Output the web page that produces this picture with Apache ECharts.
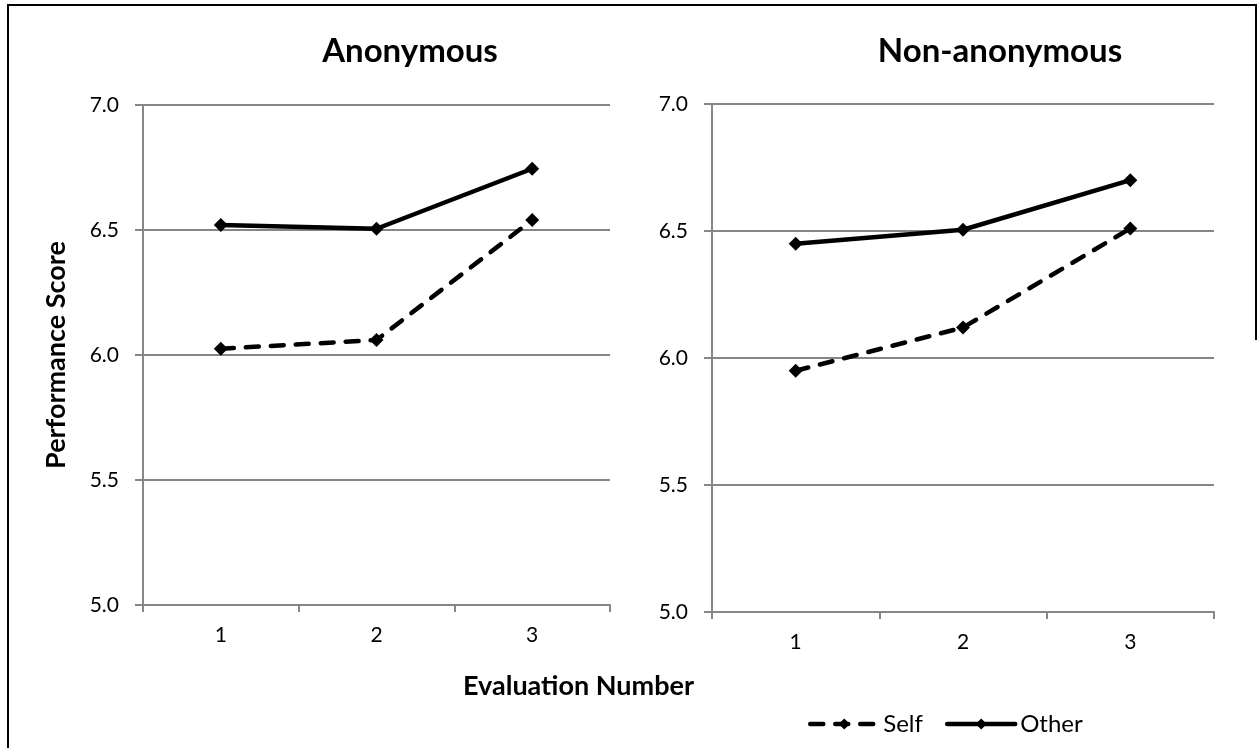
<!DOCTYPE html>
<html><head><meta charset="utf-8">
<script src="https://cdn.jsdelivr.net/npm/echarts@6/dist/echarts.min.js"></script>
<style>html,body{margin:0;padding:0;background:#fff}#c{width:1258px;height:748px}</style>
</head><body><div id="c"></div>
<script>
const categories = ['1', '2', '3'];
const anonSelf = [6.025, 6.06, 6.54];
const anonOther = [6.52, 6.505, 6.745];
const nonAnonSelf = [5.95, 6.12, 6.51];
const nonAnonOther = [6.45, 6.505, 6.70];
const panelTitles = ['Anonymous', 'Non-anonymous'];
const yTicks = { min: 5.0, max: 7.0, interval: 0.5 };

const FONT = 'Lato, "Liberation Sans", sans-serif';
const chart = echarts.init(document.getElementById('c'));

function xAxisCfg(idx) {
  return {
    type: 'category', gridIndex: idx, data: categories, boundaryGap: true,
    axisLine: { lineStyle: { color: '#868686', width: 2 } },
    axisTick: { show: true, length: 7, inside: false, alignWithLabel: false, lineStyle: { color: '#868686', width: 2 } },
    axisLabel: { color: '#000', fontFamily: FONT, fontSize: 21, margin: 20 },
    splitLine: { show: false }
  };
}
function yAxisCfg(idx, name) {
  return {
    type: 'value', gridIndex: idx, min: yTicks.min, max: yTicks.max, interval: yTicks.interval,
    name: name, nameLocation: 'middle', nameGap: 73,
    nameTextStyle: { fontFamily: FONT, fontWeight: 'bold', fontSize: 27, color: '#000' },
    axisLine: { show: true, lineStyle: { color: '#868686', width: 2 } },
    axisTick: { show: true, length: 8, lineStyle: { color: '#868686', width: 2 } },
    axisLabel: { color: '#000', fontFamily: FONT, fontSize: 21, margin: 24, formatter: v => v.toFixed(1) },
    splitLine: { show: true, lineStyle: { color: '#868686', width: 2 } }
  };
}
function lineSeries(name, data, idx, dashed) {
  return {
    name: name, type: 'line', xAxisIndex: idx, yAxisIndex: idx, data: data,
    symbol: 'diamond', symbolSize: 14, showSymbol: true,
    lineStyle: { color: '#000', width: 4.5, type: dashed ? [13, 12] : 'solid', cap: 'round' },
    itemStyle: { color: '#000' }, z: dashed ? 3 : 4, animation: false
  };
}

chart.setOption({
  animation: false,
  title: [
    { text: panelTitles[0], left: 405, top: 30, textAlign: 'center',
      textStyle: { fontFamily: FONT, fontWeight: 'bold', fontSize: 33, color: '#000' } },
    { text: panelTitles[1], left: 995, top: 30, textAlign: 'center',
      textStyle: { fontFamily: FONT, fontWeight: 'bold', fontSize: 33, color: '#000' } }
  ],
  grid: [
    { left: 143, top: 105, width: 467, height: 500 },
    { left: 712, top: 104, width: 502, height: 508 }
  ],
  xAxis: [xAxisCfg(0), xAxisCfg(1)],
  yAxis: [yAxisCfg(0, 'Performance Score'), yAxisCfg(1, '')],
  legend: {
    data: ['Self', 'Other'], left: 803, top: 707, itemWidth: 68, itemHeight: 14, itemGap: 22,
    lineStyle: { width: 4.5, color: '#000' },
    textStyle: { fontFamily: FONT, fontSize: 24, color: '#000', padding: [0, 0, 0, 0] }
  },
  series: [
    lineSeries('Self', anonSelf, 0, true),
    lineSeries('Other', anonOther, 0, false),
    lineSeries('Self', nonAnonSelf, 1, true),
    lineSeries('Other', nonAnonOther, 1, false)
  ],
  graphic: [
    { type: 'text', left: 463, top: 673,
      style: { text: 'Evaluation Number', fontFamily: FONT, fontWeight: 'bold', fontSize: 27, fill: '#000' } },
    { type: 'polyline', silent: true,
      shape: { points: [[8, 748], [8, 5], [1256, 5], [1256, 340]] },
      style: { stroke: '#000', lineWidth: 2, fill: null } }
  ]
});
</script></body></html>
